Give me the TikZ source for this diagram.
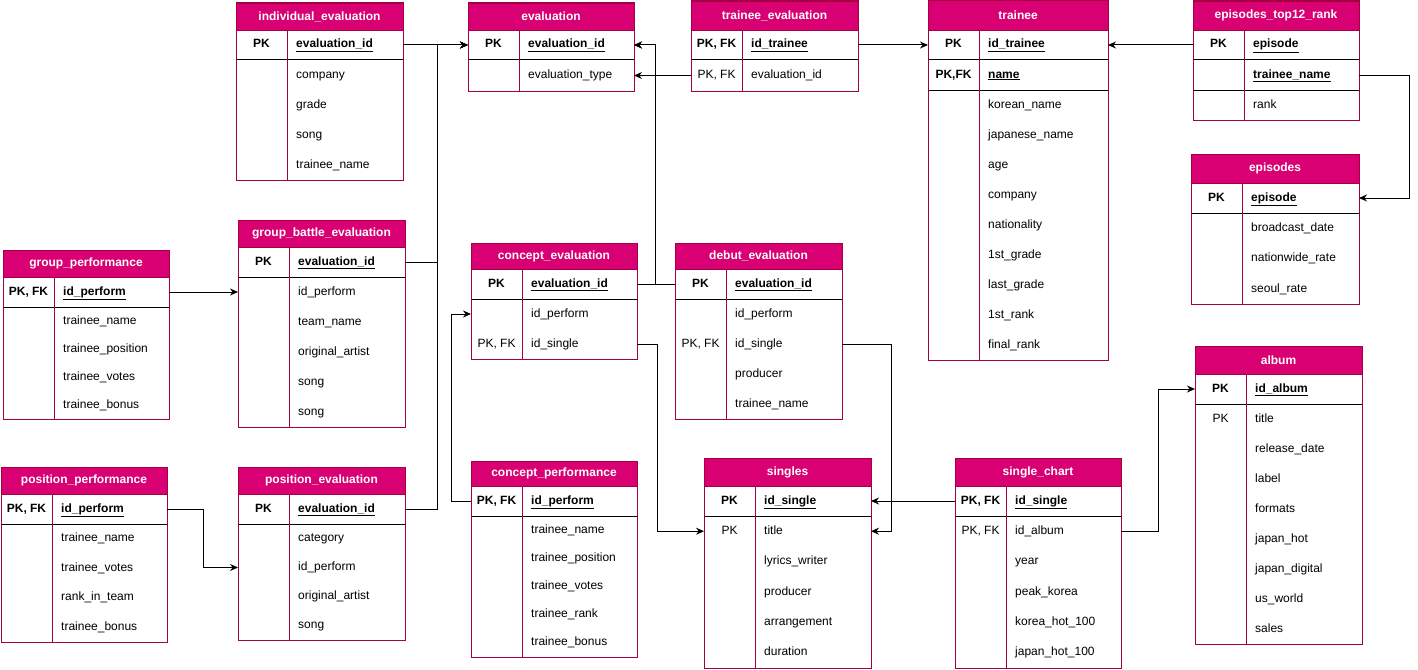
\documentclass[tikz,border=0pt]{standalone}
\usepackage{fontspec}
\setmainfont{Liberation Sans}
\usetikzlibrary{positioning, arrows.meta}

\definecolor{erpink}{HTML}{D80073}
\definecolor{erline}{HTML}{A50040}
\newcommand{\erfont}{\fontsize{12}{14}\selectfont}

\tikzset{
  head/.style={fill=erpink, draw=erline, text=white, font=\erfont\bfseries,
    inner sep=0pt, outer sep=0pt, anchor=north west},
  row/.style={inner sep=0pt, outer sep=0pt},
  keytxt/.style={inner sep=0pt, text height=9pt, text depth=3pt, font=\erfont},
  fieldtxt/.style={inner sep=0pt, text height=9pt, text depth=3pt, anchor=west, font=\erfont},
  sep/.style={black, line width=1pt},
  divider/.style={erline, line width=1pt},
  border/.style={erline, line width=1pt},
  fk/.style={-{Stealth[length=8pt, width=7pt]}, line width=1pt},
}

% #1 name, #2 x, #3 y, #4 width, #5 header height, #6 row height, #7 title, #8 key/field/pk
\newcommand{\ertable}[8]{%
  \node[head, minimum width=#4pt, minimum height=#5pt, alias=#1-0] (#1) at (#2,#3) {#7};
  \foreach \k/\f/\p [count=\i, remember=\i as \j (initially 0)] in {#8}{
    \ifnum\p=1 \def\rowh{30pt}\else\def\rowh{#6pt}\fi
    \node[row, minimum width=#4pt, minimum height=\rowh, below=0pt of #1-\j] (#1-\i) {};
    \ifnum\p=1
      \node[keytxt, font=\erfont\bfseries] (#1-\i-k) at ([xshift=25.5pt]#1-\i.west) {\k};
      \node[fieldtxt, font=\erfont\bfseries] (#1-\i-f) at ([xshift=60pt]#1-\i.west) {\underline{\f}};
      \draw[sep] (#1-\i.south west) -- (#1-\i.south east);
    \else
      \node[keytxt] (#1-\i-k) at ([xshift=25.5pt]#1-\i.west) {\k};
      \node[fieldtxt] (#1-\i-f) at ([xshift=60pt]#1-\i.west) {\f};
    \fi
    \xdef\lastrow{\i}
  }
  \draw[divider] ([xshift=51pt]#1.south west) -- ([xshift=51pt]#1-\lastrow.south west);
  \draw[border] (#1.north west) rectangle (#1-\lastrow.south east);
}

\begin{document}
\begin{tikzpicture}[x=1pt, y=-1pt]
  \useasboundingbox (0,0) rectangle (1418,669);

  % tables
  \ertable{indiv}{236}{3}{167}{27}{30}{individual\_evaluation}{PK/evaluation\_id/1, {}/company/0, {}/grade/0, {}/song/0, {}/trainee\_name/0}
  \ertable{evaluation}{468}{3}{166}{27}{31}{evaluation}{PK/evaluation\_id/1, {}/evaluation\_type/0}
  \ertable{traineval}{691}{1}{167}{29}{31}{trainee\_evaluation}{{PK, FK}/id\_trainee/1, {PK, FK}/evaluation\_id/0}
  \ertable{trainee}{928}{0}{180}{30}{30}{trainee}{PK/id\_trainee/1, {PK,FK}/name/1, {}/korean\_name/0, {}/japanese\_name/0, {}/age/0, {}/company/0, {}/nationality/0, {}/1st\_grade/0, {}/last\_grade/0, {}/1st\_rank/0, {}/final\_rank/0}
  \ertable{eptop}{1193}{1}{166}{29}{30}{episodes\_top12\_rank}{PK/episode/1, {}/trainee\_name/1, {}/rank/0}
  \ertable{episodes}{1191}{154}{168}{29}{30.5}{episodes}{PK/episode/1, {}/broadcast\_date/0, {}/nationwide\_rate/0, {}/seoul\_rate/0}
  \ertable{gperf}{3}{250}{166}{27}{28}{group\_performance}{{PK, FK}/id\_perform/1, {}/trainee\_name/0, {}/trainee\_position/0, {}/trainee\_votes/0, {}/trainee\_bonus/0}
  \ertable{gbattle}{238}{220}{167}{27}{30}{group\_battle\_evaluation}{PK/evaluation\_id/1, {}/id\_perform/0, {}/team\_name/0, {}/original\_artist/0, {}/song/0, {}/song/0}
  \ertable{posperf}{1}{467}{166}{27}{29.5}{position\_performance}{{PK, FK}/id\_perform/1, {}/trainee\_name/0, {}/trainee\_votes/0, {}/rank\_in\_team/0, {}/trainee\_bonus/0}
  \ertable{poseval}{238}{467}{167}{27}{29}{position\_evaluation}{PK/evaluation\_id/1, {}/category/0, {}/id\_perform/0, {}/original\_artist/0, {}/song/0}
  \ertable{ceval}{471}{243}{166}{26}{30}{concept\_evaluation}{PK/evaluation\_id/1, {}/id\_perform/0, {PK, FK}/id\_single/0}
  \ertable{debut}{675}{243}{167}{26}{30}{debut\_evaluation}{PK/evaluation\_id/1, {}/id\_perform/0, {PK, FK}/id\_single/0, {}/producer/0, {}/trainee\_name/0}
  \ertable{cperf}{471}{461}{166}{25}{28.2}{concept\_performance}{{PK, FK}/id\_perform/1, {}/trainee\_name/0, {}/trainee\_position/0, {}/trainee\_votes/0, {}/trainee\_rank/0, {}/trainee\_bonus/0}
  \ertable{singles}{704}{458}{167}{28}{30.4}{singles}{PK/id\_single/1, PK/title/0, {}/lyrics\_writer/0, {}/producer/0, {}/arrangement/0, {}/duration/0}
  \ertable{schart}{955}{458}{166}{28}{30.4}{single\_chart}{{PK, FK}/id\_single/1, {PK, FK}/id\_album/0, {}/year/0, {}/peak\_korea/0, {}/korea\_hot\_100/0, {}/japan\_hot\_100/0}
  \ertable{album}{1195}{346}{167}{28}{30}{album}{PK/id\_album/1, PK/title/0, {}/release\_date/0, {}/label/0, {}/formats/0, {}/japan\_hot/0, {}/japan\_digital/0, {}/us\_world/0, {}/sales/0}

  % relations
  \coordinate (evbus) at (437,45);
  \coordinate (evbus2) at (655,45);
  \draw[fk] (indiv-1.east) -- (evaluation-1.west);
  \draw[fk] (gbattle-1.east) -| (evbus) -- (evaluation-1.west);
  \draw[fk] (poseval-1.east) -| (evbus) -- (evaluation-1.west);
  \draw[fk] (ceval-1.east) -| (evbus2) -- (evaluation-1.east);
  \draw[fk] (debut-1.west) -| (evbus2) -- (evaluation-1.east);
  \draw[fk] (traineval-1.east) -- (trainee-1.west);
  \draw[fk] (traineval-2.west) -- (evaluation-2.east);
  \draw[fk] (eptop-1.west) -- (trainee-1.east);
  \draw[fk] (eptop-2.east) -- ++(50pt,0) |- (episodes-1.east);
  \draw[fk] (gperf-1.east) -- (gbattle-2.west);
  \draw[fk] (posperf-1.east) -- ++(36pt,0) |- (poseval-3.west);
  \draw[fk] (cperf-1.west) -- ++(-20pt,0) |- (ceval-2.west);
  \draw[fk] (ceval-3.east) -- ++(20pt,0) |- (singles-2.west);
  \draw[fk] (debut-3.east) -- ++(49pt,0) |- (singles-2.east);
  \draw[fk] (schart-1.west) -- (singles-1.east);
  \draw[fk] (schart-2.east) -- ++(37pt,0) |- (album-1.west);
\end{tikzpicture}
\end{document}
